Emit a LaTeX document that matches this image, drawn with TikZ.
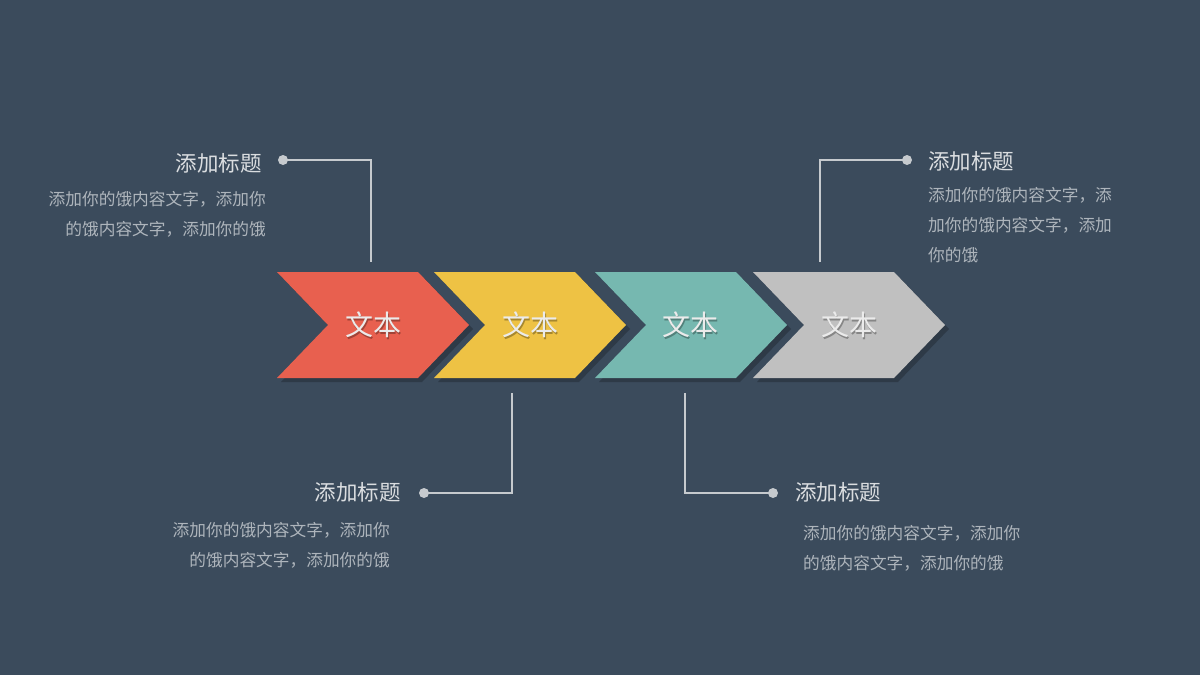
\documentclass[tikz,border=0pt]{standalone}
\usepackage{fontspec}
\newfontfamily\cjk{Noto Sans CJK SC}
\definecolor{bgc}{HTML}{3B4B5C}
\definecolor{cred}{HTML}{E8604F}
\definecolor{cyel}{HTML}{EEC244}
\definecolor{cteal}{HTML}{76B8B0}
\definecolor{cgray}{HTML}{C0C0C0}
\definecolor{linec}{HTML}{C6CACE}
\definecolor{titlec}{HTML}{DADDE0}
\definecolor{bodyc}{HTML}{AEB5BC}
\tikzset{
  lbl/.style={inner sep=0pt, font=\cjk\fontsize{28}{30}\selectfont, text=white!92!black},
  lblsh/.style={inner sep=0pt, font=\cjk\fontsize{28}{30}\selectfont, text=black, opacity=0.3},
  ttl/.style={inner sep=0pt, font=\cjk\fontsize{21.5}{24}\selectfont, text=titlec},
  bdy/.style={inner sep=0pt, font=\cjk\fontsize{16.7}{20}\selectfont, text=bodyc},
  conn/.style={draw=linec, line width=1.5pt},
  dotc/.style={circle, fill=linec, inner sep=0pt, minimum size=10pt}
}
\newcommand\chevshape[2]{%
  \fill[black, opacity=0.22] (#1+4,276) -- (#1+145,276) -- (#1+196,329) -- (#1+145,382) -- (#1+4,382) -- (#1+55,329) -- cycle;
  \fill[#2] (#1,272) -- (#1+141,272) -- (#1+192,325) -- (#1+141,378) -- (#1,378) -- (#1+51,325) -- cycle;
}
\begin{document}
\begin{tikzpicture}[x=1pt,y=-1pt]
\fill[bgc] (0,0) rectangle (1200,675);
\useasboundingbox (0,0) rectangle (1200,675);

\chevshape{277}{cred}
\chevshape{434}{cyel}
\chevshape{595}{cteal}
\chevshape{753}{cgray}

\foreach \cx/\nm in {373/t1, 530/t2, 690/t3, 849/t4}{
  \node[lblsh] (\nm s) at (\cx+1.5,326.5) {文本};
  \node[lbl] (\nm) at (\cx,325) {文本};
}

% callout 1 (top left)
\node[dotc] (d1) at (283,160) {};
\coordinate (c1a) at (371,160);
\coordinate (c1b) at (371,262);
\draw[conn] (d1.center) -- (c1a) -- (c1b);
\node[ttl, anchor=east] (h1) at (262,163) {添加标题};
\node[bdy, anchor=east] (b1a) at (266,199) {添加你的饿内容文字，添加你};
\node[bdy, anchor=east] (b1b) at (266,229) {的饿内容文字，添加你的饿};

% callout 2 (top right)
\node[dotc] (d2) at (907,160) {};
\coordinate (c2a) at (820,160);
\coordinate (c2b) at (820,262);
\draw[conn] (d2.center) -- (c2a) -- (c2b);
\node[ttl, anchor=west] (h2) at (928,161) {添加标题};
\node[bdy, anchor=west] (b2a) at (928,195) {添加你的饿内容文字，添};
\node[bdy, anchor=west] (b2b) at (928,225) {加你的饿内容文字，添加};
\node[bdy, anchor=west] (b2c) at (928,255) {你的饿};

% callout 3 (bottom middle-left)
\node[dotc] (d3) at (424,493) {};
\coordinate (c3a) at (512,493);
\coordinate (c3b) at (512,393);
\draw[conn] (d3.center) -- (c3a) -- (c3b);
\node[ttl, anchor=east] (h3) at (401,492) {添加标题};
\node[bdy, anchor=east] (b3a) at (390,530) {添加你的饿内容文字，添加你};
\node[bdy, anchor=east] (b3b) at (390,560) {的饿内容文字，添加你的饿};

% callout 4 (bottom right)
\node[dotc] (d4) at (773,493) {};
\coordinate (c4a) at (685,493);
\coordinate (c4b) at (685,393);
\draw[conn] (d4.center) -- (c4a) -- (c4b);
\node[ttl, anchor=west] (h4) at (795,492) {添加标题};
\node[bdy, anchor=west] (b4a) at (803,533) {添加你的饿内容文字，添加你};
\node[bdy, anchor=west] (b4b) at (803,563) {的饿内容文字，添加你的饿};
\end{tikzpicture}
\end{document}
